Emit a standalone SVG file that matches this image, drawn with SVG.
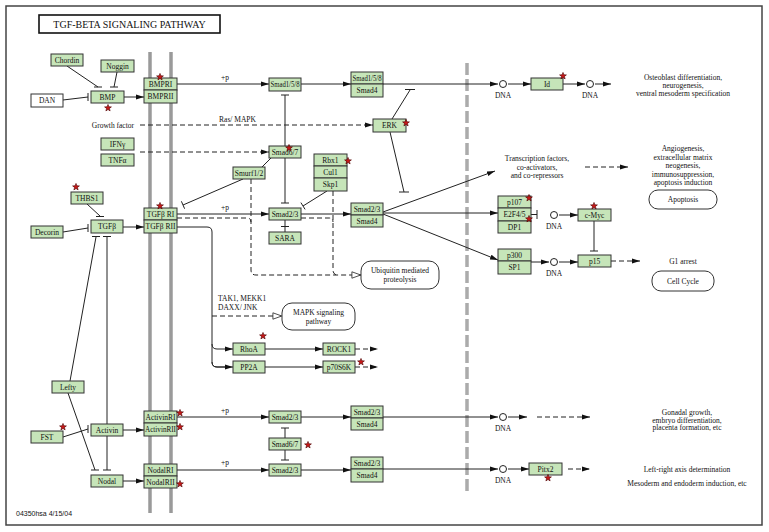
<svg xmlns="http://www.w3.org/2000/svg" width="769" height="532" viewBox="0 0 769 532">
<style>
.n rect{fill:#c6e5b9;stroke:#333;stroke-width:1}
.w rect{fill:#fff;stroke:#333;stroke-width:1}
.r rect{fill:#fff;stroke:#333;stroke-width:1}
text{font-family:"Liberation Serif","Times New Roman",serif;font-size:7.5px;fill:#111}
.c{text-anchor:middle}
.l{fill:none;stroke:#222;stroke-width:1}
.d{stroke-dasharray:5,3}
.m{marker-end:url(#a)}
.o{marker-end:url(#oa)}
.mem{stroke:#9a9a9a;stroke-width:3.5}
.star{fill:#c81818;stroke:#4a0000;stroke-width:.6}
.dna{fill:#fff;stroke:#222;stroke-width:1}
</style>
<defs>
<marker id="a" viewBox="0 0 8 6" refX="8" refY="3" markerWidth="8" markerHeight="6" markerUnits="userSpaceOnUse" orient="auto"><path d="M0,0.5L8,3L0,5.5z" fill="#111"/></marker>
<marker id="oa" viewBox="0 0 10 8" refX="9.6" refY="4" markerWidth="10" markerHeight="8" markerUnits="userSpaceOnUse" orient="auto"><path d="M0.5,0.8L9.4,4L0.5,7.2z" fill="#fff" stroke="#222" stroke-width="0.8"/></marker>
<path id="s" class="star" d="M0,-3.6L0.88,-1.21L3.42,-1.11L1.43,0.46L2.12,2.91L0,1.5L-2.12,2.91L-1.43,0.46L-3.42,-1.11L-0.88,-1.21Z"/>
</defs>
<rect x="0" y="0" width="769" height="532" fill="#fff"/>
<rect x="6" y="6" width="756" height="519" fill="#fff" stroke="#444" stroke-width="1.5"/>
<g id="title"><rect x="39" y="15" width="181" height="18" fill="#fff" stroke="#111" stroke-width="1.6"/><text class="c" x="129.5" y="28" style="font-size:10px">TGF-BETA SIGNALING PATHWAY</text></g>

<g id="membranes">
<line class="mem" x1="150" y1="52" x2="150" y2="513"/>
<line class="mem" x1="171" y1="52" x2="171" y2="513"/>
<line x1="467" y1="63" x2="467" y2="492" stroke="#ababab" stroke-width="3.5" stroke-dasharray="12,4"/>
</g>

<g id="connectors">
<!-- BMP branch -->
<path class="l" d="M67,66L98,87M94,87H102"/>
<path class="l" d="M117,72L114,87M110,87H118"/>
<path class="l" d="M63,100L88,97M88,93V101"/>
<path class="l m" d="M124,97H144"/>
<path class="l m" d="M177,84H269"/>
<path class="l m" d="M301,84H351"/>
<path class="l m" d="M383,84H498"/>
<path class="l m" d="M508,84H531"/>
<path class="l m" d="M563,84H585"/>
<path class="l m" d="M595,84H611"/>
<path class="l d m" d="M140,125H373"/>
<path class="l d m" d="M140,152H269"/>
<path class="l" d="M392,119L410,90M405,89.5H415"/>
<path class="l" d="M390,132L404,192M399,192H409"/>
<path class="l" d="M285,146V95M281,95H289"/>
<path class="l" d="M285,158V203M281,203H289"/>
<path class="l" d="M262,167L271,158"/>
<path class="l" d="M243,179L183,205M181.4,201.3L184.6,208.7"/>
<path class="l" d="M327,191L303,206M300.9,202.6L305.1,209.4"/>
<!-- TGFb branch -->
<path class="l m" d="M123,227H144"/>
<path class="l" d="M87,204L100,216M96,216.5H104"/>
<path class="l" d="M63,232L88,228M88,224V232"/>
<path class="l" d="M96,237L70,381M68,393L95,470M92,236.5H100M91,470H99"/>
<path class="l" d="M107,237V470M103,236.5H111M103,470H111"/>
<path class="l m" d="M177,214H269"/>
<path class="l m" d="M301,214H351"/>
<path class="l" d="M285,220V232M281,226.5H289"/>
<path class="l d" d="M177,218H247Q251,218 251,222"/>
<path class="l d o" d="M251,179V270Q251,275 256,275H361"/>
<path class="l d" d="M301,218H329Q333,218 333,222"/>
<path class="l d" d="M333,191V270Q333,275 338,275"/>
<path class="l" d="M177,227H207Q212,227 212,232V362Q212,367 217,367H225"/>
<path class="l m" d="M212,362Q212,367 217,367H233"/>
<path class="l m" d="M212,344Q212,349 217,349H233"/>
<path class="l d o" d="M212,316H282"/>
<path class="l m" d="M265,349H323"/>
<path class="l m" d="M265,367H323"/>
<path class="l d m" d="M355,349H378"/>
<path class="l d m" d="M355,367H378"/>
<path class="l m" d="M383,212L495,171"/>
<path class="l m" d="M383,213H498"/>
<path class="l m" d="M383,214L498,260"/>
<path class="l" d="M531,214.5H537M537,210V219"/>
<path class="l m" d="M559,215H578"/>
<path class="l" d="M594,221V251M590,251H598"/>
<path class="l m" d="M531,262H549"/>
<path class="l m" d="M559,262H578"/>
<path class="l d m" d="M611,261H640"/>
<path class="l d m" d="M585,167H628"/>
<!-- Activin branch -->
<path class="l" d="M63,437L88,429M88,425V433"/>
<path class="l m" d="M123,430H144"/>
<path class="l m" d="M177,417H269"/>
<path class="l m" d="M301,417H351"/>
<path class="l m" d="M383,417H498"/>
<path class="l m" d="M508,417H527"/>
<path class="l d m" d="M537,417H590"/>
<path class="l" d="M285,438V428M281,428H289"/>
<path class="l" d="M285,450V460M281,460H289"/>
<!-- Nodal branch -->
<path class="l m" d="M123,481H144"/>
<path class="l m" d="M177,470H269"/>
<path class="l m" d="M301,470H351"/>
<path class="l m" d="M383,469H498"/>
<path class="l m" d="M508,469H529"/>
<path class="l d m" d="M568,469H590"/>
</g>

<g id="chordin" class="n"><rect x="51" y="54" width="32" height="12"/><text class="c" x="67" y="62.6">Chordin</text></g>
<g id="noggin" class="n"><rect x="101" y="60" width="33" height="12"/><text class="c" x="117.5" y="68.6">Noggin</text></g>
<g id="dan" class="w"><rect x="31" y="94" width="32" height="13"/><text class="c" x="47" y="103.1">DAN</text></g>
<g id="bmp" class="n"><rect x="91" y="91" width="33" height="12"/><text class="c" x="107.5" y="99.6">BMP</text><use href="#s" x="108" y="108"/></g>
<g id="bmpr" class="n"><rect x="144" y="78" width="33" height="12"/><rect x="144" y="90" width="33" height="13"/><text class="c" x="160.5" y="86.6">BMPRI</text><text class="c" x="160.5" y="99.1">BMPRII</text><use href="#s" x="160" y="77"/></g>
<g id="ifng" class="n"><rect x="101" y="138" width="33" height="12"/><text class="c" x="117.5" y="146.6">IFNγ</text></g>
<g id="tnfa" class="n"><rect x="101" y="154" width="33" height="12"/><text class="c" x="117.5" y="162.6">TNFα</text></g>
<g id="smad158" class="n"><rect x="269" y="78" width="32" height="13"/><text class="c" x="285" y="87.1" textLength="29" lengthAdjust="spacingAndGlyphs">Smad1/5/8</text></g>
<g id="smad158-4" class="n"><rect x="351" y="72" width="32" height="12"/><rect x="351" y="84" width="32" height="13"/><text class="c" x="367" y="80.6" textLength="29" lengthAdjust="spacingAndGlyphs">Smad1/5/8</text><text class="c" x="367" y="93.1">Smad4</text></g>
<g id="erk" class="n"><rect x="373" y="119" width="33" height="13"/><text class="c" x="389.5" y="128.1">ERK</text><use href="#s" x="406" y="123"/></g>
<g id="smad67a" class="n"><rect x="269" y="146" width="32" height="12"/><text class="c" x="285" y="154.6">Smad6/7</text><use href="#s" x="289" y="148"/></g>
<g id="smurf" class="n"><rect x="233" y="167" width="32" height="12"/><text class="c" x="249" y="175.6">Smurf1/2</text></g>
<g id="scf" class="n"><rect x="314" y="154" width="33" height="12"/><rect x="314" y="166" width="33" height="12"/><rect x="314" y="178" width="33" height="13"/><text class="c" x="330.5" y="162.6">Rbx1</text><text class="c" x="330.5" y="174.6">Cul1</text><text class="c" x="330.5" y="187.1">Skp1</text><use href="#s" x="348" y="161"/></g>
<g id="thbs1" class="n"><rect x="71" y="192" width="32" height="12"/><text class="c" x="87" y="200.6">THBS1</text><use href="#s" x="76" y="187"/></g>
<g id="decorin" class="n"><rect x="31" y="226" width="32" height="12"/><text class="c" x="47" y="234.6">Decorin</text></g>
<g id="tgfb" class="n"><rect x="91" y="220" width="32" height="13"/><text class="c" x="107" y="229.1">TGFβ</text></g>
<g id="tgfbr" class="n"><rect x="144" y="208" width="33" height="12"/><rect x="144" y="220" width="33" height="13"/><text class="c" x="160.5" y="216.6">TGFβ RI</text><text class="c" x="160.5" y="229.1">TGFβ RII</text><use href="#s" x="160" y="206"/></g>
<g id="smad23a" class="n"><rect x="269" y="208" width="32" height="12"/><text class="c" x="285" y="216.6">Smad2/3</text></g>
<g id="sara" class="n"><rect x="269" y="232" width="32" height="12"/><text class="c" x="285" y="240.6">SARA</text></g>
<g id="smad23-4a" class="n"><rect x="351" y="203" width="32" height="12"/><rect x="351" y="215" width="32" height="12"/><text class="c" x="367" y="211.6">Smad2/3</text><text class="c" x="367" y="223.6">Smad4</text></g>
<g id="ubiquitin" class="r"><rect x="361" y="261" width="78" height="28" rx="10"/><text class="c" x="400" y="273">Ubiquitin mediated</text><text class="c" x="400" y="282">proteolysis</text></g>
<g id="mapk" class="r"><rect x="282" y="303" width="73" height="27" rx="10"/><text class="c" x="318.5" y="315">MAPK signaling</text><text class="c" x="318.5" y="324">pathway</text></g>
<g id="rhoa" class="n"><rect x="233" y="343" width="32" height="12"/><text class="c" x="249" y="351.6">RhoA</text><use href="#s" x="263" y="336"/></g>
<g id="pp2a" class="n"><rect x="233" y="361" width="32" height="12"/><text class="c" x="249" y="369.6">PP2A</text></g>
<g id="rock1" class="n"><rect x="323" y="343" width="32" height="12"/><text class="c" x="339" y="351.6">ROCK1</text></g>
<g id="p70s6k" class="n"><rect x="323" y="361" width="32" height="12"/><text class="c" x="339" y="369.6">p70S6K</text><use href="#s" x="361" y="362"/></g>
<g id="lefty" class="n"><rect x="52" y="381" width="32" height="12"/><text class="c" x="68" y="389.6">Lefty</text></g>
<g id="fst" class="n"><rect x="31" y="431" width="32" height="12"/><text class="c" x="47" y="439.6">FST</text><use href="#s" x="63" y="427"/></g>
<g id="activin" class="n"><rect x="91" y="424" width="32" height="12"/><text class="c" x="107" y="432.6">Activin</text></g>
<g id="activinr" class="n"><rect x="144" y="411" width="33" height="12"/><rect x="144" y="423" width="33" height="13"/><text class="c" x="160.5" y="419.6" textLength="30" lengthAdjust="spacingAndGlyphs">ActivinRI</text><text class="c" x="160.5" y="432.1" textLength="31" lengthAdjust="spacingAndGlyphs">ActivinRII</text><use href="#s" x="180" y="413"/><use href="#s" x="180" y="427"/></g>
<g id="smad23b" class="n"><rect x="269" y="411" width="32" height="12"/><text class="c" x="285" y="419.6">Smad2/3</text></g>
<g id="smad23-4b" class="n"><rect x="351" y="406" width="32" height="12"/><rect x="351" y="418" width="32" height="12"/><text class="c" x="367" y="414.6">Smad2/3</text><text class="c" x="367" y="426.6">Smad4</text></g>
<g id="smad67b" class="n"><rect x="269" y="438" width="32" height="12"/><text class="c" x="285" y="446.6">Smad6/7</text><use href="#s" x="308" y="445"/></g>
<g id="smad23c" class="n"><rect x="269" y="464" width="32" height="12"/><text class="c" x="285" y="472.6">Smad2/3</text></g>
<g id="smad23-4c" class="n"><rect x="351" y="457" width="32" height="12"/><rect x="351" y="469" width="32" height="13"/><text class="c" x="367" y="465.6">Smad2/3</text><text class="c" x="367" y="478.1">Smad4</text></g>
<g id="nodal" class="n"><rect x="91" y="475" width="32" height="12"/><text class="c" x="107" y="483.6">Nodal</text></g>
<g id="nodalr" class="n"><rect x="144" y="464" width="33" height="12"/><rect x="144" y="476" width="33" height="12"/><text class="c" x="160.5" y="472.6">NodalRI</text><text class="c" x="160.5" y="484.6">NodalRII</text><use href="#s" x="180" y="484"/></g>
<g id="id" class="n"><rect x="531" y="78" width="32" height="12"/><text class="c" x="547" y="86.6">Id</text><use href="#s" x="563" y="76"/></g>
<g id="e2f" class="n"><rect x="498" y="196" width="33" height="12"/><rect x="498" y="208" width="33" height="13"/><rect x="498" y="221" width="33" height="12"/><text class="c" x="514.5" y="204.6">p107</text><text class="c" x="514.5" y="217.1">E2F4/5</text><text class="c" x="514.5" y="229.6">DP1</text><use href="#s" x="529" y="198"/><use href="#s" x="529" y="219"/></g>
<g id="cmyc" class="n"><rect x="578" y="209" width="33" height="12"/><text class="c" x="594.5" y="217.6">c-Myc</text><use href="#s" x="594" y="206"/></g>
<g id="p300" class="n"><rect x="498" y="249" width="33" height="12"/><rect x="498" y="261" width="33" height="13"/><text class="c" x="514.5" y="257.6">p300</text><text class="c" x="514.5" y="270.1">SP1</text></g>
<g id="p15" class="n"><rect x="578" y="255" width="33" height="12"/><text class="c" x="594.5" y="263.6">p15</text></g>
<g id="pitx2" class="n"><rect x="529" y="463" width="33" height="12"/><text class="c" x="545.5" y="471.6">Pitx2</text><use href="#s" x="548" y="478"/></g>
<g id="apoptosis" class="r"><rect x="649" y="190" width="68" height="19" rx="9"/><text class="c" x="683" y="202">Apoptosis</text></g>
<g id="cellcycle" class="r"><rect x="652" y="271" width="62" height="20" rx="9"/><text class="c" x="683" y="283.5">Cell Cycle</text></g>

<g id="dna1"><circle class="dna" cx="503" cy="84" r="3.5"/><text class="c" x="503" y="98">DNA</text></g>
<g id="dna2"><circle class="dna" cx="590" cy="84" r="3.5"/><text class="c" x="590" y="98">DNA</text></g>
<g id="dna3"><circle class="dna" cx="554" cy="215" r="3.5"/><text class="c" x="554" y="229">DNA</text></g>
<g id="dna4"><circle class="dna" cx="554" cy="262" r="3.5"/><text class="c" x="554" y="276">DNA</text></g>
<g id="dna5"><circle class="dna" cx="503" cy="417" r="3.5"/><text class="c" x="503" y="431">DNA</text></g>
<g id="dna6"><circle class="dna" cx="503" cy="469" r="3.5"/><text class="c" x="503" y="483">DNA</text></g>

<g id="labels">
<text x="225" y="80" class="c">+p</text>
<text x="225" y="210" class="c">+p</text>
<text x="225" y="413" class="c">+p</text>
<text x="225" y="465" class="c">+p</text>
<text x="134" y="128" style="text-anchor:end">Growth factor</text>
<text x="237.5" y="122" class="c">Ras/ MAPK</text>
<text x="218" y="301">TAK1, MEKK1</text>
<text x="218" y="310">DAXX/ JNK</text>
<text class="c" x="683" y="80">Osteoblast differentiation,</text>
<text class="c" x="683" y="88">neurogenesis,</text>
<text class="c" x="683" y="96">ventral mesoderm specification</text>
<text class="c" x="537" y="161">Transcription factors,</text>
<text class="c" x="537" y="169.5">co-activators,</text>
<text class="c" x="537" y="178">and co-repressors</text>
<text class="c" x="683" y="151">Angiogenesis,</text>
<text class="c" x="683" y="159.5">extracellular matrix</text>
<text class="c" x="683" y="168">neogenesis,</text>
<text class="c" x="683" y="176.5">immunosuppression,</text>
<text class="c" x="683" y="185">apoptosis induction</text>
<text class="c" x="683" y="263.5">G1 arrest</text>
<text class="c" x="687" y="415">Gonadal growth,</text>
<text class="c" x="687" y="422.5">embryo differentiation,</text>
<text class="c" x="687" y="430">placenta formation, etc</text>
<text class="c" x="687" y="471.5">Left-right axis determination</text>
<text class="c" x="687" y="485.5">Mesoderm and endoderm induction, etc</text>
<text x="16" y="516" style="font-family:'Liberation Sans',Arial,sans-serif;font-size:7px">04350hsa  4/15/04</text>
</g>
</svg>
